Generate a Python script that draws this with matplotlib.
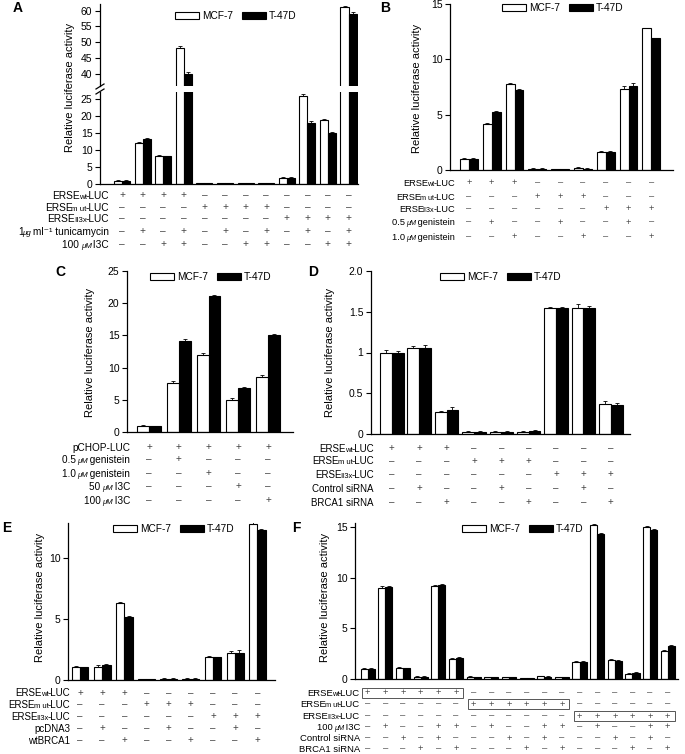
import matplotlib
matplotlib.use("Agg")
import matplotlib.pyplot as plt
from matplotlib.patches import Patch, Rectangle
from matplotlib.lines import Line2D
from matplotlib.transforms import blended_transform_factory
import numpy as np

plt.rcParams["font.family"] = ["Liberation Sans", "DejaVu Sans"]

W, H = 685, 754

# ---- data ----
# row labels: list of (text, style) pieces; "s" = small, "si" = small italic, "" = normal
wt = [("ERSE", ""), ("wt", "s"), ("-LUC", "")]
mut = [("ERSE", ""), ("m ut", "s"), ("-LUC", "")]
ii3x = [("ERSE", ""), ("II3x", "s"), ("-LUC", "")]

A_mcf = [1.0, 12.0, 8.2, 48.3, 0.3, 0.3, 0.3, 0.3, 1.8, 25.8, 18.9, 61.0]
A_t47 = [0.9, 13.2, 8.1, 40.0, 0.3, 0.3, 0.3, 0.3, 1.8, 18.0, 15.0, 59.0]
A_err_mcf = [0.2, 0.4, 0.3, 0.5, 0.05, 0.05, 0.05, 0.05, 0.2, 0.6, 0.3, 0.3]
A_err_t47 = [0.2, 0.4, 0.2, 0.7, 0.05, 0.05, 0.05, 0.05, 0.2, 0.6, 0.3, 0.4]
A_labels = [wt, mut, ii3x,
            [("1", ""), ("μg", "si"), (" ml\u207b\u00b9 tunicamycin", "")],
            [("100 ", ""), ("μM", "si"), (" I3C", "")]]
A_signs = ["++++--------", "----++++----", "--------++++",
           "-+-+-+-+-+-+", "--++--++--++"]

B_mcf = [1.0, 4.15, 7.8, 0.1, 0.05, 0.15, 1.6, 7.3, 12.8]
B_t47 = [1.0, 5.2, 7.25, 0.1, 0.05, 0.1, 1.6, 7.6, 11.9]
B_err_mcf = [0.12, 0.08, 0.08, 0.05, 0.03, 0.08, 0.12, 0.25, 0.06]
B_err_t47 = [0.05, 0.12, 0.08, 0.05, 0.03, 0.06, 0.15, 0.3, 0.07]
B_labels = [wt, mut, ii3x,
            [("0.5 ", ""), ("μM", "si"), (" genistein", "")],
            [("1.0 ", ""), ("μM", "si"), (" genistein", "")]]
B_signs = ["+++------", "---+++---", "------+++", "-+--+--+-", "--+--+--+"]

C_mcf = [1.0, 7.6, 12.0, 5.0, 8.6]
C_t47 = [0.9, 14.1, 21.1, 6.8, 15.0]
C_err_mcf = [0.1, 0.25, 0.2, 0.25, 0.25]
C_err_t47 = [0.1, 0.3, 0.15, 0.2, 0.2]
C_labels = [[("pCHOP-LUC", "")],
            [("0.5 ", ""), ("μM", "si"), (" genistein", "")],
            [("1.0 ", ""), ("μM", "si"), (" genistein", "")],
            [("50 ", ""), ("μM", "si"), (" I3C", "")],
            [("100 ", ""), ("μM", "si"), (" I3C", "")]]
C_signs = ["+++++", "-+---", "--+--", "---+-", "----+"]

D_mcf = [1.0, 1.05, 0.27, 0.03, 0.03, 0.03, 1.54, 1.55, 0.37]
D_t47 = [1.0, 1.06, 0.29, 0.03, 0.03, 0.035, 1.54, 1.54, 0.36]
D_err_mcf = [0.03, 0.03, 0.01, 0.01, 0.01, 0.01, 0.02, 0.04, 0.04]
D_err_t47 = [0.02, 0.03, 0.04, 0.01, 0.01, 0.01, 0.02, 0.03, 0.02]
D_labels = [wt, mut, ii3x, [("Control siRNA", "")], [("BRCA1 siRNA", "")]]
D_signs = ["+++------", "---+++---", "------+++", "-+--+--+-", "--+--+--+"]

E_mcf = [1.05, 1.1, 6.3, 0.08, 0.1, 0.1, 1.9, 2.25, 12.8]
E_t47 = [1.05, 1.2, 5.15, 0.08, 0.1, 0.1, 1.85, 2.2, 12.35]
E_err_mcf = [0.1, 0.12, 0.1, 0.02, 0.03, 0.03, 0.1, 0.12, 0.15]
E_err_t47 = [0.05, 0.12, 0.12, 0.02, 0.03, 0.03, 0.08, 0.25, 0.07]
E_labels = [wt, mut, ii3x, [("pcDNA3", "")], [("wtBRCA1", "")]]
E_signs = ["+++------", "---+++---", "------+++", "-+--+--+-", "--+--+--+"]

F_mcf = [1.0, 9.0, 1.1, 0.2, 9.2, 1.95, 0.2, 0.15, 0.15, 0.1, 0.25, 0.15,
         1.7, 15.2, 1.85, 0.45, 15.0, 2.75]
F_t47 = [1.0, 9.05, 1.05, 0.2, 9.25, 2.05, 0.15, 0.15, 0.15, 0.1, 0.2, 0.15,
         1.65, 14.3, 1.75, 0.55, 14.7, 3.25]
F_err_mcf = [0.05, 0.15, 0.05, 0.05, 0.1, 0.08, 0.05, 0.05, 0.05, 0.03, 0.05,
             0.05, 0.1, 0.1, 0.08, 0.15, 0.15, 0.1]
F_err_t47 = [0.05, 0.15, 0.05, 0.05, 0.08, 0.08, 0.03, 0.05, 0.03, 0.03, 0.05,
             0.05, 0.1, 0.15, 0.08, 0.1, 0.12, 0.1]
F_labels = [wt, mut, ii3x, [("100 ", ""), ("μM", "si"), (" I3C", "")],
            [("Control siRNA", "")], [("BRCA1 siRNA", "")]]
F_signs = ["++++++------------", "------++++++------", "------------++++++",
           "-+--++-+--++-+--++", "--+-+---+-+---+-+-", "---+-+---+-+---+-+"]

fig = plt.figure(figsize=(W / 100, H / 100), dpi=100)
renderer = fig.canvas.get_renderer()


def add_axes(x0, x1, ytop, ybot):
    return fig.add_axes([x0 / W, 1 - ybot / H, (x1 - x0) / W, (ybot - ytop) / H])


def style(ax, bottom=True):
    for s in ["top", "right"]:
        ax.spines[s].set_visible(False)
    ax.spines["left"].set_linewidth(0.9)
    ax.spines["bottom"].set_linewidth(0.9)
    if not bottom:
        ax.spines["bottom"].set_visible(False)
    ax.tick_params(axis="y", direction="out", length=3.5, width=0.8, labelsize=7.5, pad=2)
    ax.set_xticks([])


def bars(ax, mcf, t47, em, et, bw=0.4):
    x = np.arange(len(mcf))
    z = np.zeros(len(mcf))
    ax.bar(x - bw / 2, mcf, bw, color="white", edgecolor="black", linewidth=0.8)
    ax.bar(x + bw / 2, t47, bw, color="black", edgecolor="black", linewidth=0.8)
    ax.errorbar(x - bw / 2, mcf, yerr=[z, em], fmt="none", ecolor="black",
                elinewidth=0.6, capsize=1.5, capthick=0.6)
    ax.errorbar(x + bw / 2, t47, yerr=[z, et], fmt="none", ecolor="black",
                elinewidth=0.6, capsize=1.5, capthick=0.6)


def legend(x, y):
    handles = [Patch(facecolor="white", edgecolor="black", linewidth=0.8, label="MCF-7"),
               Patch(facecolor="black", edgecolor="black", linewidth=0.8, label="T-47D")]
    fig.legend(handles=handles, ncol=2, frameon=False, fontsize=7.3,
               loc="center left", bbox_to_anchor=(x / W, 1 - y / H),
               borderpad=0, borderaxespad=0, handlelength=2.4, handleheight=0.7,
               handletextpad=0.25, columnspacing=0.9)


def rich_label(x, y, parts, fs):
    # right-aligned label built from pieces, drawn right to left on one baseline
    base = 1 - (y + fs * 100 / 72 * 0.36) / H
    for text, st in reversed(parts):
        size = fs * 0.78 if st else fs
        t = fig.text(x / W, base, text, ha="right", va="baseline", fontsize=size,
                     fontstyle="italic" if st == "si" else "normal")
        x -= t.get_window_extent(renderer).width - 1.2


def table(ax, labels, signs, rows_y, label_x, fs=7):
    tr = blended_transform_factory(ax.transData, fig.transFigure)
    for lab, s, y in zip(labels, signs, rows_y):
        rich_label(label_x, y, lab, fs)
        for i, c in enumerate(s):
            ax.text(i, 1 - y / H, "+" if c == "+" else "\u2013", transform=tr,
                    ha="center", va="center", fontsize=fs, color="#444444")


def ylabel(x, y):
    fig.text(x / W, 1 - y / H, "Relative luciferase activity", rotation=90,
             ha="center", va="center", fontsize=8)


def letter(x, y, s):
    fig.text(x / W, 1 - y / H, s, ha="left", va="center", fontsize=10, fontweight="bold")


# ---- Panel A (broken axis) ----
axA_top = add_axes(100, 358, 4.2, 86.4)
axA = add_axes(100, 358, 92.2, 184)
for ax in (axA_top, axA):
    bars(ax, A_mcf, A_t47, A_err_mcf, A_err_t47, bw=0.39)
    ax.set_xlim(-1.07, 11.46)
style(axA_top, bottom=False)
style(axA)
axA_top.set_ylim(36, 62)
axA_top.set_yticks([40, 45, 50, 55, 60])
axA.set_ylim(0, 27)
axA.set_yticks([0, 5, 10, 15, 20, 25])
for yy in (84, 89):
    fig.add_artist(Line2D([96 / W, 104 / W], [1 - (yy + 5) / H, 1 - yy / H],
                          color="black", linewidth=0.9))
legend(175, 16)
ylabel(70, 87)
letter(13, 8, "A")
table(axA, A_labels, A_signs, [195, 207, 218, 231, 244], 109, fs=7.3)

# ---- Panel B ----
axB = add_axes(450, 673, 4, 170)
bars(axB, B_mcf, B_t47, B_err_mcf, B_err_t47, bw=0.39)
style(axB)
axB.set_xlim(-0.83, 8.95)
axB.set_ylim(0, 15)
axB.set_yticks([0, 5, 10, 15])
legend(502, 8)
ylabel(417, 88)
letter(380, 8, "B")
table(axB, B_labels, B_signs, [183, 197, 209, 222, 237], 455, fs=6.7)

# ---- Panel C ----
axC = add_axes(127, 293, 271, 432)
bars(axC, C_mcf, C_t47, C_err_mcf, C_err_t47, bw=0.4)
style(axC)
axC.set_xlim(-0.74, 4.84)
axC.set_ylim(0, 25)
axC.set_yticks([0, 5, 10, 15, 20, 25])
legend(150, 277)
ylabel(90, 352)
letter(55, 272, "C")
table(axC, C_labels, C_signs, [447, 459, 473, 486, 500], 130, fs=7.2)

# ---- Panel D ----
axD = add_axes(371, 630, 271, 434)
bars(axD, D_mcf, D_t47, D_err_mcf, D_err_t47, bw=0.43)
style(axD)
axD.set_xlim(-0.76, 8.7)
axD.set_ylim(0, 2.0)
axD.set_yticks([0, 0.5, 1, 1.5, 2.0])
axD.set_yticklabels(["0", "0.5", "1", "1.5", "2.0"])
legend(440, 277)
ylabel(330, 352)
letter(308, 272, "D")
table(axD, D_labels, D_signs, [448, 461, 474, 488, 502], 374, fs=7)

# ---- Panel E ----
axE = add_axes(68, 275, 523, 680)
bars(axE, E_mcf, E_t47, E_err_mcf, E_err_t47, bw=0.38)
style(axE)
axE.set_xlim(-0.54, 8.8)
axE.set_ylim(0, 12.9)
axE.set_yticks([0, 5, 10])
legend(113, 529)
ylabel(40, 597)
letter(2, 528, "E")
table(axE, E_labels, E_signs, [693, 704, 716, 728, 740], 70, fs=7.0)

# ---- Panel F ----
axF = add_axes(355, 678, 523, 679)
bars(axF, F_mcf, F_t47, F_err_mcf, F_err_t47, bw=0.4)
style(axF)
axF.set_xlim(-0.72, 17.58)
axF.set_ylim(0, 15.4)
axF.set_yticks([0, 5, 10, 15])
legend(462, 529)
ylabel(325, 597)
letter(292, 528, "F")
F_rows = [693, 704, 716, 727, 738, 749]
table(axF, F_labels, F_signs, F_rows, 360, fs=6.8)
trF = blended_transform_factory(axF.transData, fig.transFigure)
for k in range(3):
    y = F_rows[k]
    axF.add_patch(Rectangle((6 * k - 0.3, 1 - (y + 5) / H), 5.7, 10 / H,
                            transform=trF, fill=False, edgecolor="#555555",
                            linewidth=0.7, clip_on=False))

fig.savefig("out.png", dpi=100)
